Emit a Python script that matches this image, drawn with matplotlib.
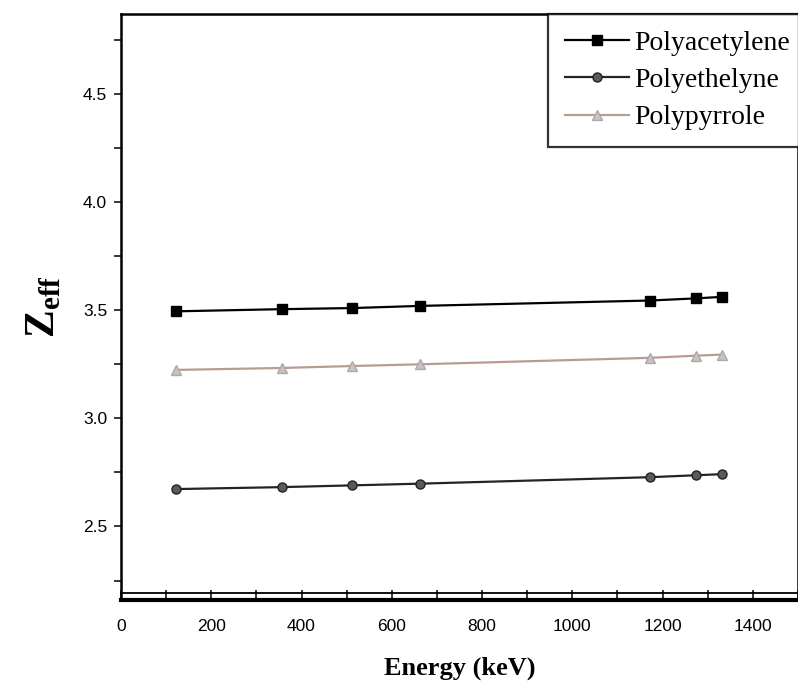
import matplotlib
matplotlib.use("Agg")
import matplotlib.pyplot as plt
from matplotlib.ticker import MultipleLocator
from matplotlib.transforms import offset_copy

energy = [122, 356, 511, 662, 1173, 1275, 1332]
polyacetylene = [3.495, 3.505, 3.510, 3.520, 3.545, 3.555, 3.562]
polyethelyne = [2.673, 2.682, 2.690, 2.698, 2.728, 2.737, 2.742]
polypyrrole = [3.224, 3.233, 3.242, 3.250, 3.280, 3.290, 3.295]
series_names = ["Polyacetylene", "Polyethelyne", "Polypyrrole"]
xticks = [0, 200, 400, 600, 800, 1000, 1200, 1400]
yticks = [2.5, 3.0, 3.5, 4.0, 4.5]

plt.rcParams['mathtext.fontset'] = 'custom'
plt.rcParams['mathtext.rm'] = 'Liberation Serif'
plt.rcParams['mathtext.bf'] = 'Liberation Serif:bold'

fig = plt.figure(figsize=(7.98, 6.95), dpi=100)
ax = fig.add_axes([121/798, 1 - 600/695, 1 - 121/798, (600 - 14)/695])

ax.plot(energy, polyacetylene, color='black', lw=1.6, marker='s', ms=6.5,
        mfc='black', mec='black', label=series_names[0])
ax.plot(energy, polyethelyne, color='#2a2222', lw=1.6, marker='o', ms=6.5,
        mfc='#5a5a5a', mec='#222222', label=series_names[1])
ax.plot(energy, polypyrrole, color='#b89c92', lw=1.6, marker='^', ms=7.5,
        mfc='#c4c4c4', mec='#aaaaaa', label=series_names[2])

ax.set_xlim(0, 1500)
ax.set_ylim(2.16, 4.87)
ax.set_xticks(xticks)
ax.set_yticks(yticks)
ax.set_yticklabels([f"{v:.1f}" for v in yticks])
ax.xaxis.set_minor_locator(MultipleLocator(100))
ax.yaxis.set_minor_locator(MultipleLocator(0.25))

for lab in ax.get_xticklabels() + ax.get_yticklabels():
    lab.set_fontfamily('Liberation Sans')
    lab.set_fontsize(12.5)

ax.tick_params(axis='y', which='both', direction='out', length=5, width=1.1, pad=5)
ax.tick_params(axis='x', which='both', direction='in', length=7, width=1.1, pad=14)

for s in ['left', 'top', 'right']:
    ax.spines[s].set_linewidth(1.8)
ax.spines['bottom'].set_linewidth(3.0)

# thin line above the bottom spine (double-line base)
tr = offset_copy(ax.transAxes, fig=fig, x=0, y=7, units='dots')
ax.plot([0, 1], [0, 0], transform=tr, color='black', lw=1.3, clip_on=False)

ax.set_xlabel('Energy (keV)', fontfamily='Liberation Serif', fontweight='bold',
              fontsize=19, labelpad=16)
ax.set_ylabel(r'$\mathbf{Z}_{\mathbf{eff}}$', fontsize=30, labelpad=14)

leg = ax.legend(loc='upper left', bbox_to_anchor=((548 - 121) / 677, 1.0),
                frameon=True, fancybox=False, edgecolor='black',
                handlelength=2.3, borderaxespad=0.0, labelspacing=0.42,
                handletextpad=0.2, borderpad=0.6,
                prop={'family': 'Liberation Serif', 'size': 20})
leg.get_frame().set_linewidth(1.6)

fig.savefig('out.png', dpi=100)
